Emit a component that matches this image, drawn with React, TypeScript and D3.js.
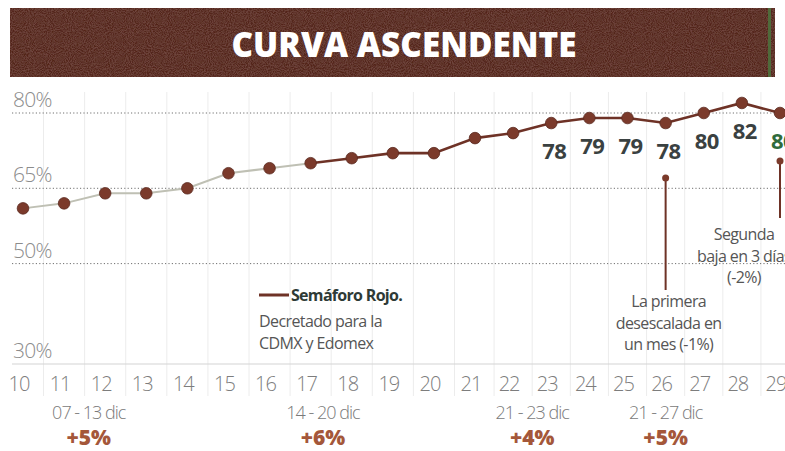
import React from "react";
import * as d3 from "d3";

// ---- data ----
const days = [10, 11, 12, 13, 14, 15, 16, 17, 18, 19, 20, 21, 22, 23, 24, 25, 26, 27, 28, 29];
const occupancy = [61, 62, 64, 64, 65, 68, 69, 70, 71, 72, 72, 75, 76, 78, 79, 79, 78, 80, 82, 80];
const labeledDays = [23, 24, 25, 26, 27, 28, 29];
const yTicks = [80, 65, 50, 30];
const weekRanges = ["07 - 13 dic", "14 - 20 dic", "21 - 23 dic", "21 - 27 dic"];
const weekChanges = ["+5%", "+6%", "+4%", "+5%"];
const weekAnchorDays = [11.6, 17.3, 22.5, 26];
const semaforoStartDay = 17;
const annotation1 = { day: 26, lines: ["La primera", "desescalada en", "un mes (-1%)"] };
const annotation2 = { day: 29, lines: ["Segunda", "baja en 3 días", "(-2%)"] };
const title = "CURVA ASCENDENTE";
const legendTitle = "Semáforo Rojo.";
const legendLines = ["Decretado para la", "CDMX y Edomex"];

const W = 785;
const H = 451;
const FONT = "'Open Sans', 'Noto Sans', sans-serif";
const BROWN = "#6e3226";
const DOT = "#7b3a2b";
const LABEL = "#3a4141";
const GREEN = "#2f6b3b";

export default function App() {
  const x = d3.scaleLinear().domain([10, 21, 29]).range([23, 475, 780]);
  const y = d3.scaleLinear().domain([30, 80]).range([364, 113]);
  const pts = days.map((d, i) => ({ d, v: occupancy[i] }));
  const line = d3
    .line<{ d: number; v: number }>()
    .x((p) => x(p.d))
    .y((p) => y(p.v));
  const before = pts.filter((p) => p.d <= semaforoStartDay);
  const after = pts.filter((p) => p.d >= semaforoStartDay);
  const mids = d3.range(10.5, 29.5, 1);

  const a1 = pts.find((p) => p.d === annotation1.day)!;
  const a2 = pts.find((p) => p.d === annotation2.day)!;

  return (
    <div style={{ position: "fixed", left: 0, top: 0, background: "#fff" }}>
      <svg width={W} height={H} style={{ display: "block" }}>
        <defs>
          <filter id="grain" x="0" y="0" width="100%" height="100%">
            <feTurbulence type="fractalNoise" baseFrequency="0.95" numOctaves="2" seed="3" result="n" />
            <feColorMatrix
              in="n"
              type="matrix"
              values="0 0 0 0 0.42  0 0 0 0 0.2  0 0 0 0 0.17  0 0 0 0.5 -0.15"
              result="c"
            />
            <feComposite in="c" in2="SourceGraphic" operator="in" result="m" />
            <feMerge>
              <feMergeNode in="SourceGraphic" />
              <feMergeNode in="m" />
            </feMerge>
          </filter>
        </defs>
        <rect width={W} height={H} fill="#fff" />

        {/* title bar */}
        <rect x={10} y={8} width={765} height={69} fill="#52251f" filter="url(#grain)" />
        <rect x={768} y={8} width={3} height={69} fill="#4f6a3a" />
        <text
          x={404}
          y={57}
          textAnchor="middle"
          fill="#fff"
          fontFamily={FONT}
          fontWeight={800}
          fontSize={35}
          textLength={345}
          lengthAdjust="spacingAndGlyphs"
        >
          {title}
        </text>

        {/* faint vertical guides */}
        {mids.map((m) => (
          <line key={m} x1={x(m)} x2={x(m)} y1={92} y2={396} stroke="#ececec" strokeWidth={1} />
        ))}

        {/* horizontal grid */}
        {yTicks.map((t) => (
          <g key={t}>
            {t === 30 ? (
              <line x1={12} x2={W} y1={y(t)} y2={y(t)} stroke="#d4d4d4" strokeWidth={1.2} />
            ) : (
              <line
                x1={12}
                x2={W}
                y1={y(t)}
                y2={y(t)}
                stroke="#707070"
                strokeWidth={1}
                strokeDasharray="1.2 2.2"
              />
            )}
            <text
              x={13}
              y={y(t) - 6}
              fill="#8c8c8c"
              fontFamily={FONT}
              fontWeight={300}
              fontSize={21}
              letterSpacing={-0.8}
            >
              {t}%
            </text>
          </g>
        ))}

        {/* x axis labels */}
        {days.map((d) => (
          <text
            key={d}
            x={x(d) - 4}
            y={391}
            textAnchor="middle"
            fill="#7d7d7d"
            fontFamily={FONT}
            fontWeight={300}
            fontSize={20}
            letterSpacing={-1}
          >
            {d}
          </text>
        ))}

        {/* line */}
        <path d={line(before) || ""} fill="none" stroke="#bfc0b4" strokeWidth={2} />
        <path d={line(after) || ""} fill="none" stroke={BROWN} strokeWidth={2.6} />
        {pts.map((p) => (
          <circle key={p.d} cx={x(p.d)} cy={y(p.v)} r={5.8} fill={DOT} stroke="#5a2a20" strokeWidth={0.8} />
        ))}

        {/* value labels */}
        {pts
          .filter((p) => labeledDays.includes(p.d))
          .map((p, i, arr) => (
            <text
              key={p.d}
              x={x(p.d) + 3}
              y={y(p.v) + 36}
              textAnchor="middle"
              fill={i === arr.length - 1 ? GREEN : LABEL}
              fontFamily={FONT}
              fontWeight={700}
              fontSize={22}
              letterSpacing={-0.5}
            >
              {p.v}
            </text>
          ))}

        {/* annotation 1 */}
        <line x1={x(a1.d)} x2={x(a1.d)} y1={y(a1.v) + 55} y2={290} stroke={BROWN} strokeWidth={2} />
        <circle cx={x(a1.d)} cy={y(a1.v) + 55} r={3.5} fill={DOT} />
        {annotation1.lines.map((l, i) => (
          <text
            key={l}
            x={x(a1.d) + 3}
            y={307 + i * 21.5}
            textAnchor="middle"
            fill="#555"
            fontFamily={FONT}
            fontSize={16}
            letterSpacing={-0.6}
          >
            {l}
          </text>
        ))}

        {/* annotation 2 */}
        <line x1={x(a2.d)} x2={x(a2.d)} y1={y(a2.v) + 48} y2={218} stroke={BROWN} strokeWidth={2} />
        <circle cx={x(a2.d)} cy={y(a2.v) + 48} r={3.5} fill={DOT} />
        {annotation2.lines.map((l, i) => (
          <text
            key={l}
            x={744}
            y={240 + i * 21.5}
            textAnchor="middle"
            fill="#555"
            fontFamily={FONT}
            fontSize={16}
            letterSpacing={-0.6}
          >
            {l}
          </text>
        ))}

        {/* legend */}
        <line x1={259} x2={289} y1={295} y2={295} stroke={BROWN} strokeWidth={3} />
        <text x={291} y={301} fill="#2e3a36" fontFamily={FONT} fontWeight={700} fontSize={16} letterSpacing={-0.7}>
          {legendTitle}
        </text>
        {legendLines.map((l, i) => (
          <text
            key={l}
            x={259}
            y={327 + i * 22}
            fill="#555"
            fontFamily={FONT}
            fontSize={16}
            letterSpacing={-0.6}
          >
            {l}
          </text>
        ))}

        {/* weekly summaries */}
        {weekRanges.map((r, i) => (
          <g key={r + i}>
            <text
              x={x(weekAnchorDays[i])}
              y={419}
              textAnchor="middle"
              fill="#7a7a7a"
              fontFamily={FONT}
              fontWeight={300}
              fontSize={18}
              letterSpacing={-1}
            >
              {r}
            </text>
            <text
              x={x(weekAnchorDays[i])}
              y={445}
              textAnchor="middle"
              fill="#a4573a"
              fontFamily={FONT}
              fontWeight={800}
              fontSize={21}
            >
              {weekChanges[i]}
            </text>
          </g>
        ))}
      </svg>
    </div>
  );
}
